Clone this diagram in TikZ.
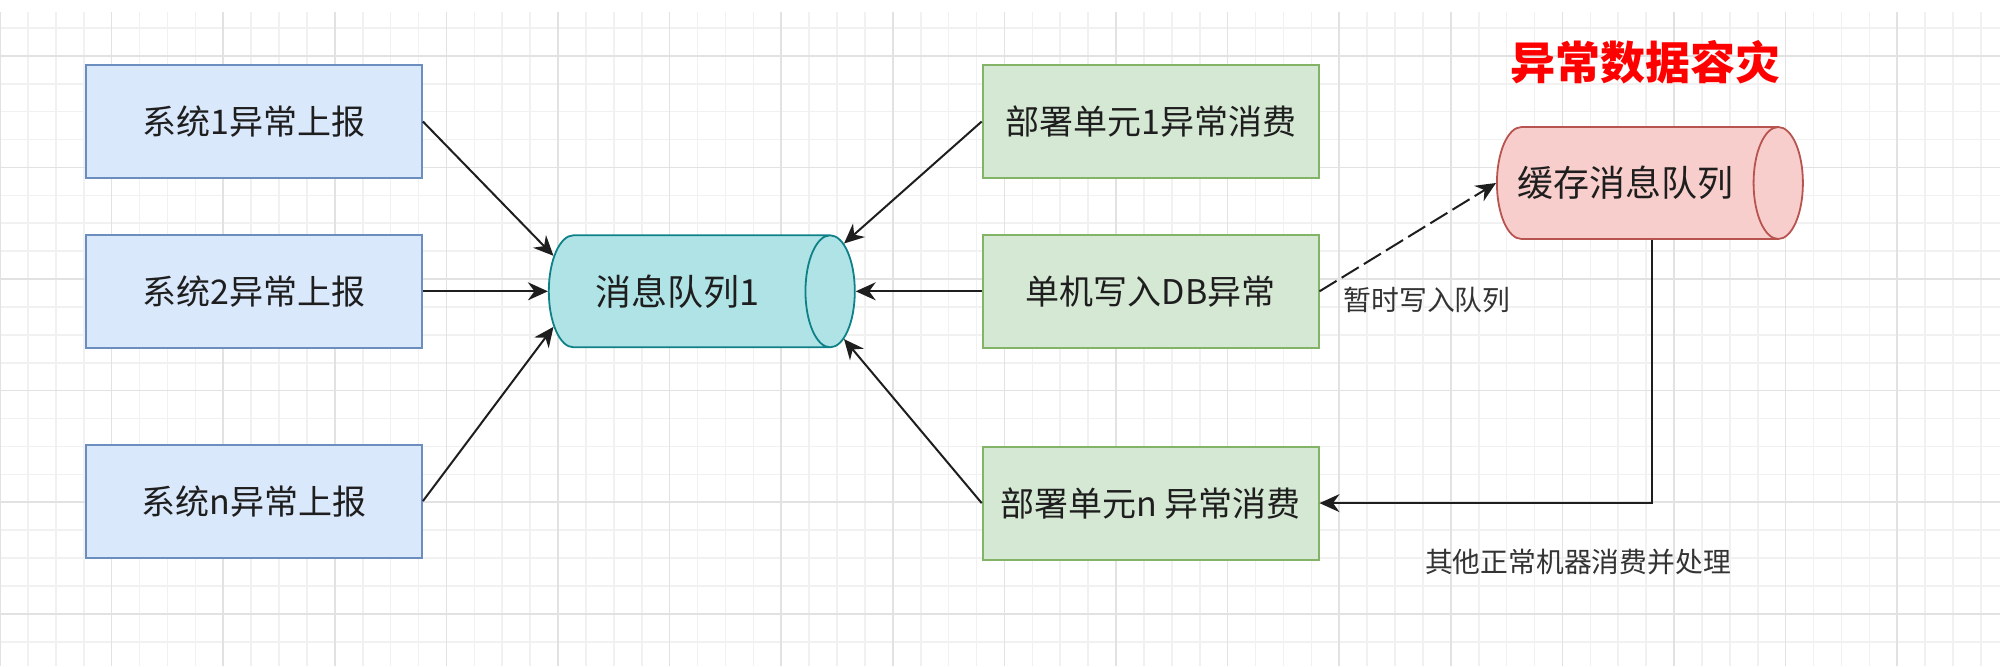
\documentclass[tikz,border=0pt]{standalone}
\usepackage{fontspec}
\setmainfont{Noto Sans CJK SC}
\usetikzlibrary{positioning}
\usetikzlibrary{shapes.geometric}
\usetikzlibrary{arrows.meta}

\definecolor{blueFill}{HTML}{DAE8FC}
\definecolor{blueLine}{HTML}{6C8EBF}
\definecolor{greenFill}{HTML}{D5E8D4}
\definecolor{greenLine}{HTML}{82B366}
\definecolor{cyanFill}{HTML}{B0E3E6}
\definecolor{cyanLine}{HTML}{0E8088}
\definecolor{redFill}{HTML}{F8CECC}
\definecolor{redLine}{HTML}{B85450}
\definecolor{gridMinor}{HTML}{F1F1F1}
\definecolor{gridMajor}{HTML}{E2E2E2}
\definecolor{ink}{HTML}{1E1E1E}
\definecolor{noteInk}{HTML}{333333}

\tikzset{
  sysbox/.style={rectangle, draw=blueLine, fill=blueFill, line width=0.9pt, minimum width=168pt, minimum height=56.5pt, inner sep=0pt, text=ink, font=\fontsize{17}{20}\selectfont},
  unitbox/.style={rectangle, draw=greenLine, fill=greenFill, line width=0.9pt, minimum width=168pt, minimum height=56.5pt, inner sep=0pt, text=ink, font=\fontsize{17}{20}\selectfont},
  queue/.style={cylinder, aspect=0.45, line width=0.9pt, minimum height=153pt, minimum width=56pt, inner xsep=0pt, inner ysep=19pt, text=ink, font=\fontsize{18}{21}\selectfont},
  note/.style={text=noteInk, inner sep=0pt, font=\fontsize{13.9}{16}\selectfont},
  flow/.style={-{Stealth[length=10pt,width=9pt]}, line width=1pt, draw=ink},
}

\begin{document}
\begin{tikzpicture}[x=0.5pt, y=-0.5pt]
    \useasboundingbox (0,0) rectangle (2000,666);
    % grid %
    \foreach \i in {0,...,71} \draw[gridMinor, line width=0.8pt] (\i*27.9,12) -- (\i*27.9,666);
    \foreach \j in {1,...,23} \draw[gridMinor, line width=0.8pt] (0,\j*27.9) -- (2000,\j*27.9);
    \foreach \i in {0,...,17} \draw[gridMajor, line width=0.8pt] (\i*111.6,12) -- (\i*111.6,666);
    \foreach \j in {0,...,5} \draw[gridMajor, line width=0.8pt] (0,55.8+\j*111.6) -- (2000,55.8+\j*111.6);
    % nodes %
    \node[sysbox] (s1) at (254,121.5) {系统1异常上报};
    \node[sysbox, below = 27.5pt of s1] (s2) {系统2异常上报};
    \node[sysbox, below = 47.5pt of s2] (s3) {系统n异常上报};
    \node[queue, draw=cyanLine, fill=cyanFill, right = 62.5pt of s2] (q1) {消息队列1};
    \node[unitbox, right = 63pt of q1] (u2) {单机写入DB异常};
    \node[unitbox, above = 27.5pt of u2] (u1) {部署单元1异常消费};
    \node[unitbox, below = 48.5pt of u2] (u3) {部署单元n 异常消费};
    \node[queue, draw=redLine, fill=redFill, anchor=west] (r) at (1496,183) {缓存消息队列};
    \node[text=red, inner sep=0pt, font=\fontsize{22.5}{26}\selectfont\bfseries] (title) at (1645,62) {异常数据容灾};
    \node[note] (l1) at (1427,300) {暂时写入队列};
    \node[note] (l2) at (1578,562) {其他正常机器消费并处理};
    % edges %
    \draw[flow] (s1.east) -- (q1.164);
    \draw[flow] (s2) -- (q1);
    \draw[flow] (s3.east) -- (q1.196);
    \draw[flow] (u1.west) -- (q1.16);
    \draw[flow] (u2) -- (q1);
    \draw[flow] (u3.west) -- (q1.-16);
    \draw[flow, dash pattern=on 10pt off 3pt] (u2.east) -- (r.west);
    \draw[flow] (r.-65) |- (u3.east);
\end{tikzpicture}
\end{document}
